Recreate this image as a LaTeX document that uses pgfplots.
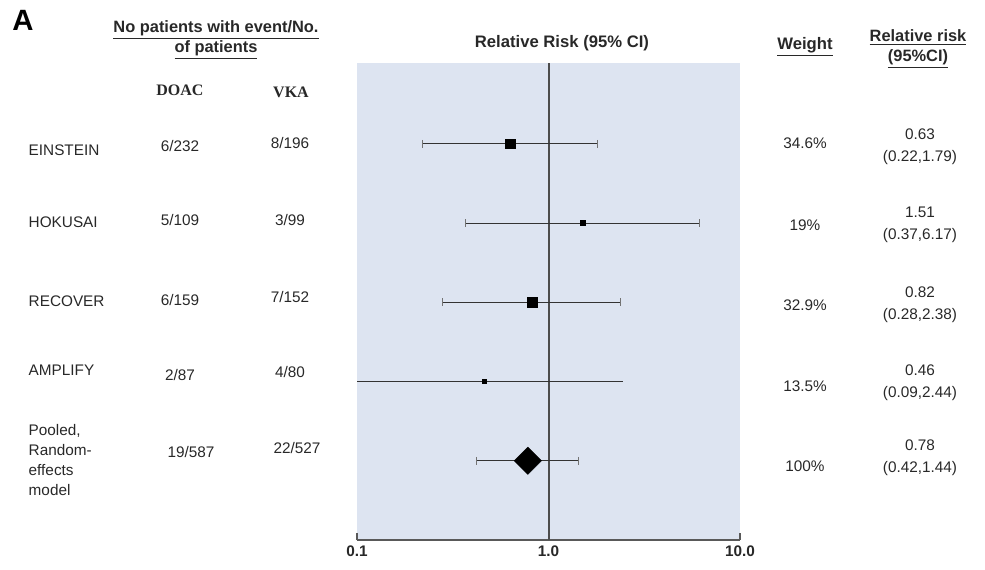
\documentclass[border=0pt]{standalone}
\usepackage{pgfplots}
\pgfplotsset{compat=1.18}
\usepackage{fontspec}
\setmainfont{Liberation Sans}
\newfontfamily\serifb{Liberation Serif}
\definecolor{bgblue}{RGB}{221,228,241}
\definecolor{txt}{RGB}{40,40,40}
\begin{document}
\begin{tikzpicture}[x=0.75pt,y=-0.75pt]
\path[use as bounding box] (0,0) rectangle (985,569);
\begin{axis}[
  at={(267.75pt,-405pt)}, anchor=south west,
  scale only axis, width=287.25pt, height=357.75pt,
  xmode=log, xmin=0.1, xmax=10, ymin=0, ymax=6.02,
  axis x line*=bottom, axis y line=none,
  axis background/.style={fill=bgblue},
  xtick={0.1,1,10}, xticklabels={0.1,1.0,10.0},
  xminorticks=false, tick align=inside,
  major tick length=5pt,
  x axis line style={draw=black!65, line width=1.3pt},
  every tick/.style={black!65, line width=1.1pt},
  xticklabel style={font=\fontsize{11.5}{13}\selectfont\bfseries, text=txt, yshift=-1pt},
  /pgf/number format/assume math mode=true,
]
\addplot[black!70, line width=1.5pt] coordinates {(1,0) (1,6.02)};
% confidence intervals
\addplot[black!80, line width=0.7pt, mark=|, mark size=3pt, mark options={black!55,line width=0.6pt}] coordinates {(0.22,5) (1.79,5)};
\addplot[black!80, line width=0.7pt, mark=|, mark size=3pt, mark options={black!55,line width=0.6pt}] coordinates {(0.37,4) (6.17,4)};
\addplot[black!80, line width=0.7pt, mark=|, mark size=3pt, mark options={black!55,line width=0.6pt}] coordinates {(0.28,3) (2.38,3)};
\addplot[black!80, line width=0.7pt, mark=|, mark size=3pt, mark indices={2}, mark options={black!55,line width=0.6pt}] coordinates {(0.09,2) (2.44,2)};
\addplot[black!80, line width=0.7pt, mark=|, mark size=3pt, mark options={black!55,line width=0.6pt}] coordinates {(0.42,1) (1.44,1)};
% point estimates
\addplot[only marks, mark=square*, mark size=3.6pt, black] coordinates {(0.63,5)};
\addplot[only marks, mark=square*, mark size=1.9pt, black] coordinates {(1.51,4)};
\addplot[only marks, mark=square*, mark size=3.6pt, black] coordinates {(0.82,3)};
\addplot[only marks, mark=square*, mark size=1.5pt, black] coordinates {(0.46,2)};
\addplot[only marks, mark=square*, mark size=7.2pt, mark options={rotate=45}, black] coordinates {(0.78,1)};
\end{axis}
\begin{scope}[every node/.style={text=txt, font=\fontsize{11.5}{14}\selectfont}]
\node[font=\fontsize{22}{24}\selectfont\bfseries, text=black] at (23,20) {A};
\node[align=center, font=\fontsize{12.3}{15}\selectfont\bfseries] at (216,40) {\underline{No patients with event/No.}\\\underline{of patients}};
\node[font=\fontsize{12}{14}\serifb\bfseries] at (180,90) {DOAC};
\node[font=\fontsize{12}{14}\serifb\bfseries] at (291,92) {VKA};
\node[font=\fontsize{12.5}{14}\selectfont\bfseries] at (562,43) {Relative Risk (95\% CI)};
\node[font=\fontsize{12.5}{14}\selectfont\bfseries] at (805,47) {\underline{Weight}};
\node[align=center, font=\fontsize{12.3}{15}\selectfont\bfseries] at (918,49) {\underline{Relative risk}\\\underline{(95\%CI)}};
% study names
\node[anchor=west] at (24,150) {EINSTEIN};
\node[anchor=west] at (24,222) {HOKUSAI};
\node[anchor=west] at (24,301) {RECOVER};
\node[anchor=west] at (24,370) {AMPLIFY};
\node[anchor=west, align=left, font=\fontsize{11.5}{15}\selectfont] at (24,460) {Pooled,\\Random-\\effects\\model};
% DOAC
\node at (180,146) {6/232};
\node at (180,220) {5/109};
\node at (180,300) {6/159};
\node at (180,375) {2/87};
\node at (191,452) {19/587};
% VKA
\node at (290,143) {8/196};
\node at (290,220) {3/99};
\node at (290,297) {7/152};
\node at (290,372) {4/80};
\node at (297,448) {22/527};
% Weight
\node at (805,143) {34.6\%};
\node at (805,225) {19\%};
\node at (805,305) {32.9\%};
\node at (805,386) {13.5\%};
\node at (805,466) {100\%};
% RR
\node[align=center, font=\fontsize{11.5}{16.5}\selectfont] at (920,147) {0.63\\(0.22,1.79)};
\node[align=center, font=\fontsize{11.5}{16.5}\selectfont] at (920,225) {1.51\\(0.37,6.17)};
\node[align=center, font=\fontsize{11.5}{16.5}\selectfont] at (920,305) {0.82\\(0.28,2.38)};
\node[align=center, font=\fontsize{11.5}{16.5}\selectfont] at (920,383) {0.46\\(0.09,2.44)};
\node[align=center, font=\fontsize{11.5}{16.5}\selectfont] at (920,458) {0.78\\(0.42,1.44)};
\end{scope}
\end{tikzpicture}
\end{document}
